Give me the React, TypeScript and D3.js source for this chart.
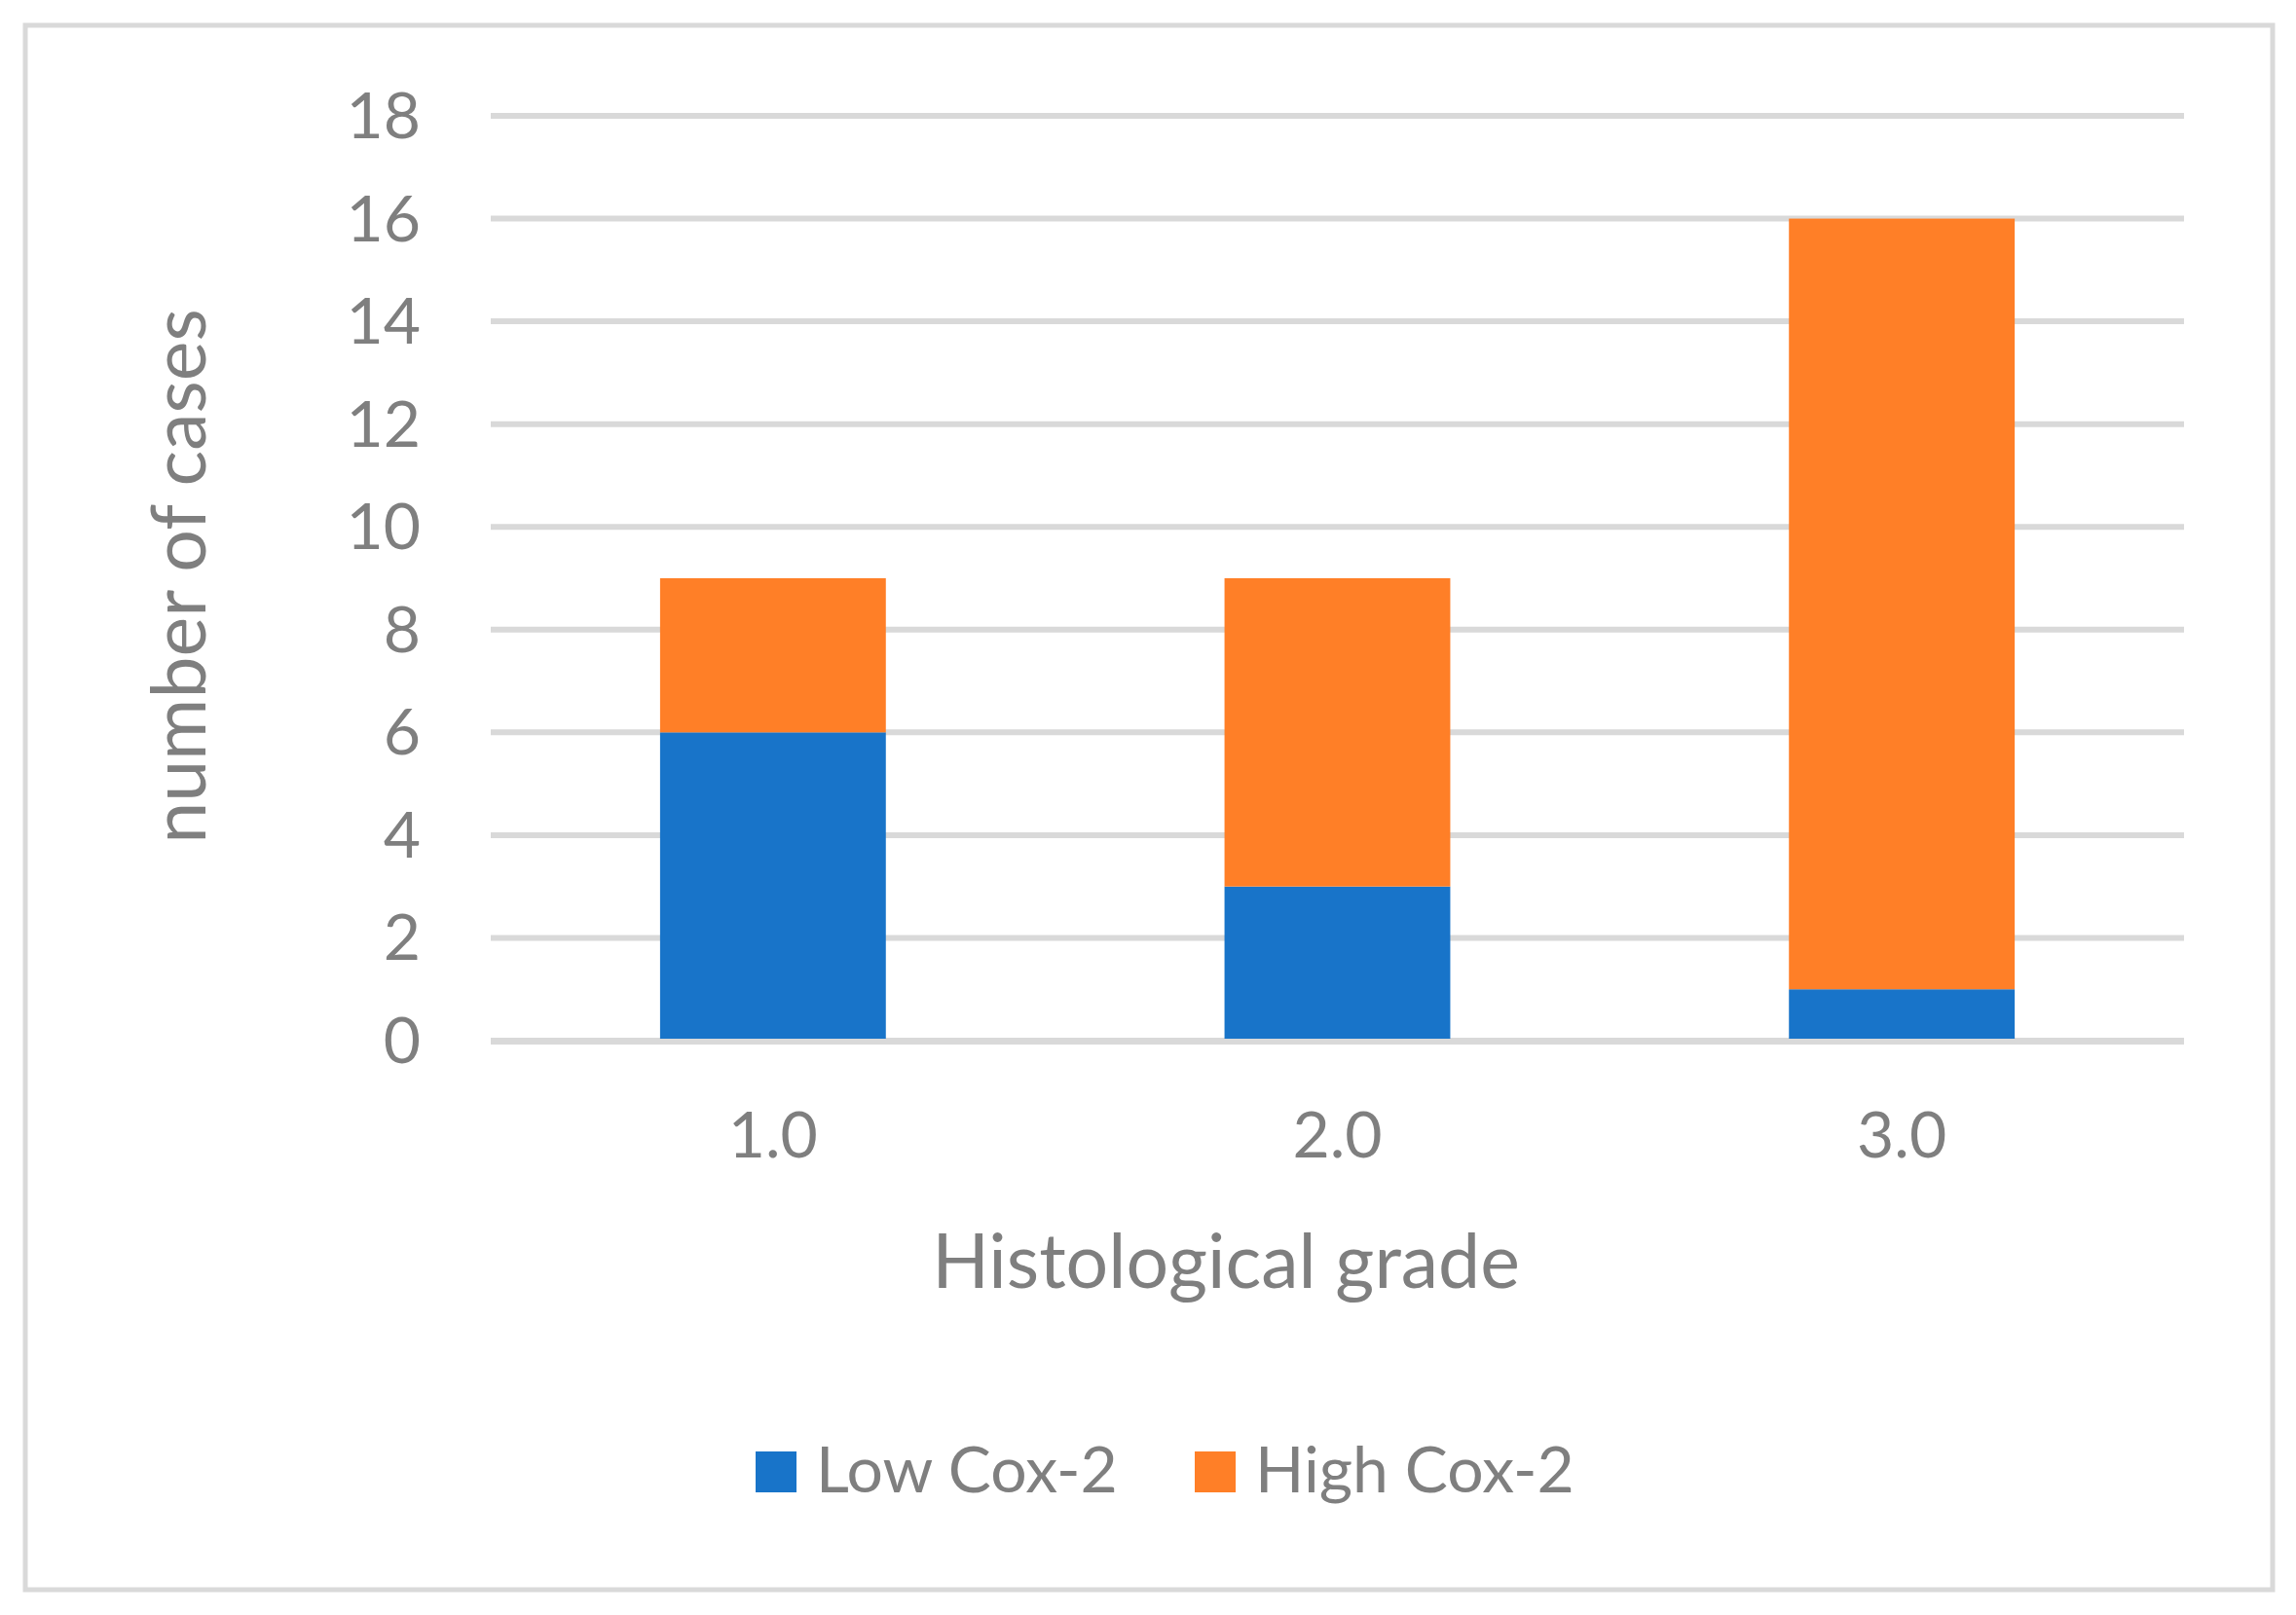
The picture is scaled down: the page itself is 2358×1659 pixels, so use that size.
import React, { useEffect, useRef } from "react";
import * as d3 from "d3";

// chart values
const grades = ["1.0", "2.0", "3.0"];
const lowCox2 = [6, 3, 1];
const highCox2 = [3, 6, 15];
const yTickValues = [0, 2, 4, 6, 8, 10, 12, 14, 16, 18];
const seriesNames = ["Low Cox-2", "High Cox-2"];
const seriesColors = ["#1874c9", "#ff7f27"];

const WIDTH = 2358;
const HEIGHT = 1659;
const FONT = "Lato, 'Open Sans', sans-serif";
const TEXT = "#7f7f7f";
const GRID = "#d9d9d9";

const App: React.FC = () => {
    const svgRef = useRef<SVGSVGElement>(null);

    useEffect(() => {
        if (!svgRef.current) return;
        const svg = d3.select(svgRef.current);
        svg.selectAll("*").remove();

        // plot area
        const plot = { left: 504, right: 2243, top: 119, bottom: 1069 };

        const x = d3
            .scaleBand<string>()
            .domain(grades)
            .range([plot.left, plot.right])
            .paddingInner(0.6)
            .paddingOuter(0.3);

        const y = d3.scaleLinear().domain([0, 18]).range([plot.bottom, plot.top]);

        // background + outer frame
        svg.append("rect")
            .attr("x", 0)
            .attr("y", 0)
            .attr("width", WIDTH)
            .attr("height", HEIGHT)
            .attr("fill", "#ffffff");
        svg.append("rect")
            .attr("x", 26)
            .attr("y", 26)
            .attr("width", 2308)
            .attr("height", 1607)
            .attr("fill", "none")
            .attr("stroke", GRID)
            .attr("stroke-width", 5);

        // gridlines
        svg.append("g")
            .selectAll("line")
            .data(yTickValues)
            .join("line")
            .attr("x1", plot.left)
            .attr("x2", plot.right)
            .attr("y1", (d) => y(d))
            .attr("y2", (d) => y(d))
            .attr("stroke", GRID)
            .attr("stroke-width", 6);

        // y tick labels
        svg.append("g")
            .selectAll("text")
            .data(yTickValues)
            .join("text")
            .attr("x", 432)
            .attr("y", (d) => y(d) + 23)
            .attr("text-anchor", "end")
            .attr("font-family", FONT)
            .attr("font-size", 66)
            .attr("fill", TEXT)
            .text((d) => String(d));

        // stacked bars
        const rows = grades.map((g, i) => ({ grade: g, low: lowCox2[i], high: highCox2[i] }));
        const stacked = d3.stack<{ grade: string; low: number; high: number }>().keys(["low", "high"])(rows);

        svg.append("g")
            .selectAll("g")
            .data(stacked)
            .join("g")
            .attr("fill", (_, i) => seriesColors[i])
            .selectAll("rect")
            .data((s) => s)
            .join("rect")
            .attr("x", (d) => x(d.data.grade) as number)
            .attr("width", x.bandwidth())
            .attr("y", (d) => y(d[1]))
            .attr("height", (d) => y(d[0]) - y(d[1]));

        // horizontal axis line sits over the bars
        svg.append("line")
            .attr("x1", plot.left)
            .attr("x2", plot.right)
            .attr("y1", y(0) + 1)
            .attr("y2", y(0) + 1)
            .attr("stroke", GRID)
            .attr("stroke-width", 6);

        // x tick labels
        svg.append("g")
            .selectAll("text")
            .data(grades)
            .join("text")
            .attr("x", (d) => (x(d) as number) + x.bandwidth() / 2)
            .attr("y", 1189)
            .attr("text-anchor", "middle")
            .attr("font-family", FONT)
            .attr("font-size", 66)
            .attr("fill", TEXT)
            .text((d) => d);

        // axis titles
        svg.append("text")
            .attr("x", 1259)
            .attr("y", 1323)
            .attr("text-anchor", "middle")
            .attr("font-family", FONT)
            .attr("font-size", 77)
            .attr("fill", TEXT)
            .text("Histological grade");

        svg.append("text")
            .attr("transform", "translate(211,592) rotate(-90)")
            .attr("text-anchor", "middle")
            .attr("font-family", FONT)
            .attr("font-size", 77)
            .attr("fill", TEXT)
            .text("number of cases");

        // legend
        const legendX = [776, 1227];
        const legend = svg
            .append("g")
            .selectAll("g")
            .data(seriesNames)
            .join("g")
            .attr("transform", (_, i) => `translate(${legendX[i]},1491)`);
        legend
            .append("rect")
            .attr("width", 42)
            .attr("height", 42)
            .attr("fill", (_, i) => seriesColors[i]);
        legend
            .append("text")
            .attr("x", 62)
            .attr("y", 42)
            .attr("font-family", FONT)
            .attr("font-size", 66)
            .attr("fill", TEXT)
            .text((d) => d);
    }, []);

    return (
        <svg
            ref={svgRef}
            width={WIDTH}
            height={HEIGHT}
            style={{ position: "absolute", left: 0, top: 0 }}
        ></svg>
    );
};

export default App;
